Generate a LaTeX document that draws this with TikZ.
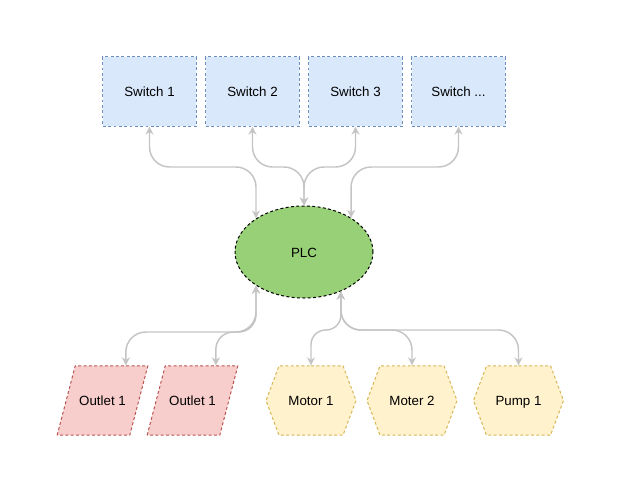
\documentclass[tikz,border=0pt]{standalone}
\usepackage{fontspec}
\setmainfont{Liberation Sans}
\usetikzlibrary{shapes.geometric,shapes.symbols,arrows.meta}

\definecolor{swfill}{HTML}{DAE8FC}
\definecolor{swline}{HTML}{6C8EBF}
\definecolor{plcfill}{HTML}{97D077}
\definecolor{outfill}{HTML}{F8CECC}
\definecolor{outline}{HTML}{B85450}
\definecolor{motfill}{HTML}{FFF2CC}
\definecolor{motline}{HTML}{D6B656}
\definecolor{linkgray}{HTML}{C4C4C4}

\tikzset{every picture/.style={line width=0.75pt}}
\tikzset{
  label text/.style={font=\fontsize{10}{12}\selectfont, text height=8pt, text depth=0pt},
  switchbox/.style={label text, draw=swline, fill=swfill, dash pattern=on 2.2pt off 1.8pt, minimum width=70pt, minimum height=52pt},
  plcnode/.style={label text, ellipse, draw=black, fill=plcfill, dash pattern=on 2.2pt off 1.8pt, minimum width=103.5pt, minimum height=69pt},
  outletbox/.style={label text, trapezium, trapezium stretches body=true, trapezium left angle=75.4, trapezium right angle=104.6, draw=outline, fill=outfill, dash pattern=on 2.2pt off 1.8pt, minimum width=68pt, minimum height=0pt, inner xsep=0pt, inner ysep=22pt},
  devicebox/.style={label text, signal, signal to=west and east, signal pointer angle=139, draw=motline, fill=motfill, dash pattern=on 2.2pt off 1.8pt, minimum width=67.5pt, minimum height=52pt, inner xsep=0pt},
  link/.style={draw=linkgray, line width=1.1pt, rounded corners=15pt, {Stealth[length=6pt,width=6pt]}-{Stealth[length=6pt,width=6pt]}}
}

\begin{document}
\begin{tikzpicture}[x=0.75pt,y=0.75pt,yscale=-1]
  \useasboundingbox (0,0) rectangle (630,493);

  % switches
  \node[switchbox] (sw1) at (149.5,91.5) {Switch 1};
  \node[switchbox] (sw2) at (252.5,91.5) {Switch 2};
  \node[switchbox] (sw3) at (355.5,91.5) {Switch 3};
  \node[switchbox] (sw4) at (458.5,91.5) {Switch ...};

  % controller
  \node[plcnode] (plc) at (304,252) {PLC};

  % outputs
  \node[outletbox] (out1) at (102.5,400.5) {Outlet 1};
  \node[outletbox] (out2) at (192.5,400.5) {Outlet 1};
  \node[devicebox] (mot1) at (311,400.5) {Motor 1};
  \node[devicebox] (mot2) at (412,400.5) {Moter 2};
  \node[devicebox] (pump1) at (518.5,400.5) {Pump 1};

  % levels of the horizontal runs
  \coordinate (topbus) at (0,167);
  \coordinate (outbus) at (0,332);
  \coordinate (motbus) at (0,330);
  \coordinate (plcin) at (plc.215.5);
  \coordinate (plcout) at (plc.313);
  \coordinate (out1top) at ([xshift=17.5pt]out1.north);
  \coordinate (out2top) at ([xshift=17.5pt]out2.north);

  % links to switches
  \draw[link] (sw1.south) -- (sw1.south |- topbus) -- (plc.145 |- topbus) -- (plc.145);
  \draw[link] (sw2.south) -- (sw2.south |- topbus) -- (plc.north |- topbus) -- (plc.north);
  \draw[link] (sw3.south) -- (sw3.south |- topbus) -- (plc.north |- topbus) -- (plc.north);
  \draw[link] (sw4.south) -- (sw4.south |- topbus) -- (plc.36 |- topbus) -- (plc.36);

  % links to outputs
  \draw[link] (plcin) -- (plcin |- outbus) -- (out1top |- outbus) -- (out1top);
  \draw[link, rounded corners=13pt] (plcin) -- (plcin |- outbus) -- (out2top |- outbus) -- (out2top);
  \draw[link, rounded corners=11pt] (plcout) -- (plcout |- motbus) -- (mot1.north |- motbus) -- (mot1.north);
  \draw[link] (plcout) -- (plcout |- motbus) -- (mot2.north |- motbus) -- (mot2.north);
  \draw[link] (plcout) -- (plcout |- motbus) -- (pump1.north |- motbus) -- (pump1.north);
\end{tikzpicture}
\end{document}
